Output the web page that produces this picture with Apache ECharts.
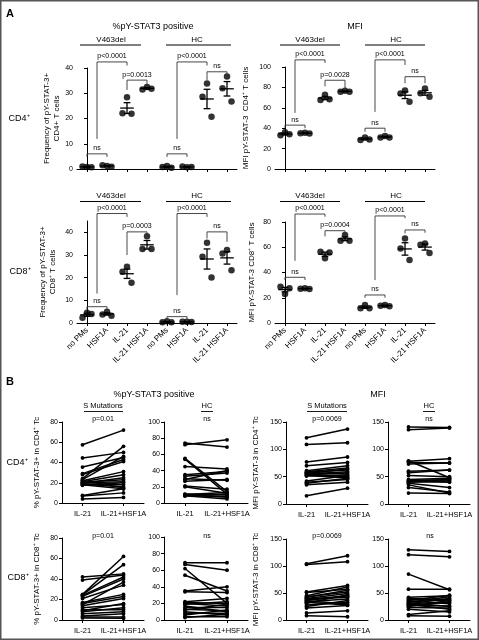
<!DOCTYPE html>
<html><head><meta charset="utf-8">
<script src="https://cdn.jsdelivr.net/npm/echarts@6/dist/echarts.min.js"></script>
<style>html,body{margin:0;padding:0;background:#fff}#c{width:479px;height:640px}</style>
</head><body><div id="c"></div><script>
// ---------------- DATA ----------------
const catsA = ['no PMs','HSF1A','IL-21','IL-21 HSF1A','no PMs','HSF1A','IL-21','IL-21 HSF1A'];
const catsB = ['IL-21','IL-21+HSF1A'];

// Panel A: three donors per condition (V463del x4, HC x4)
const cd4Freq = [[0.8,1.0,0.7],[1.2,1.5,0.9],[28.4,22.1,21.9],[32.5,31.5,31.8],[1.2,0.8,0.5],[0.7,1.0,0.8],[33.9,28.6,20.7],[36.6,32.0,26.7]];
const cd4MFI  = [[36,33,34],[35.5,35,34.8],[72.8,67.6,68.3],[76.8,75.8,75.8],[31,28.4,29],[32.4,31,31],[77,74,66],[79,74.2,70.9]];
const cd8Freq = [[4.5,2.3,4.0],[5.0,3.8,3.2],[24.8,22.6,17.8],[38.3,32.6,32.6],[0.8,0.3,0.3],[0.5,0.6,0.4],[35.4,29.2,20.1],[32.2,30.7,23.3]];
const cd8MFI  = [[23,28.8,27.5],[27.5,27.2,27],[51.2,56.4,55.9],[69.7,65.2,65.2],[14.3,11.6,11.6],[14.3,13.7,13.2],[67,59,50],[63,62,55.4]];

// Significance brackets: [x1, x2, top, leftLegEnd, rightLegEnd]
const cd4FreqBr = [[0,1,6,4.8,4.8],[0.5,2,42.4,11.9,41],[2,3,35.2,31.3,33.3],[4,5,6,4.8,4.8],[4.5,6,42.4,11.9,41],[6,7,38.5,35.2,36.8]];
const cd4FreqLab = ['ns','p<0.0001','p=0.0013','ns','p<0.0001','ns'];
const cd4MFIBr = [[0,1,43,40,40],[0.5,2,107,55,104],[2,3,87,81,78],[4,5,40,36.6,36.6],[4.5,6,107,56,102],[6,7,90.5,84,84]];
const cd4MFILab = ['ns','p<0.0001','p=0.0028','ns','p<0.0001','ns'];
const cd8FreqBr = [[0,1,7.2,6,6],[0.5,2,48.3,13,46.8],[2,3,40.2,30,38.8],[4,5,2.8,1.6,1.6],[4.5,6,48.3,12.3,46.8],[6,7,40.2,37.3,35.8]];
const cd8FreqLab = ['ns','p<0.0001','p=0.0003','ns','p<0.0001','ns'];
const cd8MFIBr = [[0,1,36.2,34,34],[0.5,2,86.3,49.3,84.2],[2,3,73.1,68.6,71],[4,5,22.2,20,20],[4.5,6,84.8,34,83],[6,7,73.7,71,71.5]];
const cd8MFILab = ['ns','p<0.0001','p=0.0004','ns','p<0.0001','ns'];

// Panel B: paired values [IL-21, IL-21+HSF1A]
const bCd4PctS = [[57.5,72],[44.5,50],[35.5,45],[29,43],[28,41],[24,56],[23,46],[22,31],[21,28],[20.5,23],[20,21],[19.5,25],[19,18],[18.5,16],[18,14],[17.5,20],[22,15],[7.5,14],[7,10],[4,5.5]];
const bCd4PctHC = [[74,69],[72,78],[55,14],[54,11],[45,42],[35,39],[33,37],[30,28],[29,40],[27,29],[21,17],[20,12],[11,10],[10.5,13],[10,7],[9.5,8],[9,5],[8.5,11]];
const bCd4MfiS = [[121,137],[109,112],[77,86],[70,76],[61,70],[59,66],[58,62],[57,55],[56,64],[55,59],[54,50],[53,57],[52,48],[51,53],[42,52],[40,45],[38,47],[35,40],[15,29]];
const bCd4MfiHC = [[141,140],[136,139],[79,48],[78,83],[76,75],[73,75],[60,62],[57,62],[52,50],[45,47],[43,44],[42,45],[41,40],[40,42],[38,30],[35,20],[30,22],[20,19]];
const bCd8PctS = [[42,45],[39,44],[25,62],[24.5,54],[24,42],[23,40],[21,34],[17,25],[16,23],[15,37],[14,21],[12,15],[10,10],[9,16],[8,12],[6,8],[4,6],[3,3],[2,1.6]];
const bCd8PctHC = [[69,69],[67,60],[62,20],[54,35],[35,40],[34,33],[22,26],[21,20],[20,17],[19,22],[17,10],[15,15],[13,11],[12,19],[10,6],[8,8],[6,12],[4,4],[3,7]];
const bCd8MfiS = [[104,119],[103,108],[52,64],[51,57],[45,61],[43,52],[42,55],[40,49],[39,44],[38,42],[36,45],[35,30],[34,39],[33,28],[31,47],[28,33],[25,36],[22,27],[13,17],[8,6]];
const bCd8MfiHC = [[130,127],[121,117],[85,56],[57,57],[42,45],[40,38],[38,35],[36,46],[35,30],[33,43],[32,25],[30,40],[29,20],[28,33],[27,26],[25,36],[23,22],[20,15],[10,17],[8,7]];

// Tick values
const ticks40 = [0,10,20,30,40];
const ticks100 = [0,20,40,60,80,100];
const ticks80 = [0,20,40,60,80];
const ticks150 = [0,50,100,150];

// ---------------- LAYOUT / STYLE ----------------
const FONT = '"Liberation Sans", Arial, sans-serif';
const jitter = [0, -0.25, 0.25];

const panelsA = [
  {left:77, top:68, width:160, height:101, max:40, ticks:ticks40, data:cd4Freq, br:cd4FreqBr, lab:cd4FreqLab, name:'Frequency of pY-STAT-3+\nCD4+ T cells', gap:15, xlabels:false},
  {left:275, top:67, width:160, height:102, max:100, ticks:ticks100, data:cd4MFI, br:cd4MFIBr, lab:cd4MFILab, name:'MFI pY-STAT-3  CD4\u207A T cells', gap:24, xlabels:false},
  {left:77, top:221, width:160, height:102, max:45, ticks:ticks40, data:cd8Freq, br:cd8FreqBr, lab:cd8FreqLab, name:'Frequency of pY-STAT-3+\nCD8\u207A T cells', gap:19, xlabels:true},
  {left:275, top:222, width:160, height:101, max:80, ticks:ticks80, data:cd8MFI, br:cd8MFIBr, lab:cd8MFILab, name:'MFI pY-STAT-3 CD8\u207A T cells', gap:18, xlabels:true}
];
const panelsB = [
  {left:62, top:422, width:82, height:81, max:80, ticks:ticks80, data:bCd4PctS, name:'% pY-STAT-3+ in CD4\u207A Tc', gap:20},
  {left:164, top:422, width:84, height:81, max:100, ticks:ticks100, data:bCd4PctHC},
  {left:286, top:422, width:82, height:82, max:150, ticks:ticks150, data:bCd4MfiS, name:'MFI pY-STAT-3 in CD4\u207A Tc', gap:25},
  {left:388, top:422, width:82, height:82, max:150, ticks:ticks150, data:bCd4MfiHC},
  {left:62, top:538, width:82, height:82, max:80, ticks:ticks80, data:bCd8PctS, name:'% pY-STAT-3+ in CD8\u207A Tc', gap:20},
  {left:164, top:537, width:84, height:83, max:100, ticks:ticks100, data:bCd8PctHC},
  {left:286, top:539, width:82, height:81, max:150, ticks:ticks150, data:bCd8MfiS, name:'MFI pY-STAT-3 in CD8\u207A Tc', gap:25},
  {left:388, top:539, width:82, height:81, max:150, ticks:ticks150, data:bCd8MfiHC}
];

const grid = [], xAxis = [], yAxis = [], series = [];
const axisLine = {show:true, lineStyle:{color:'#000', width:1}};
const axisTickStyle = {lineStyle:{color:'#000', width:1}, length:3};

function yAx(p, gi){
  return {type:'value', gridIndex:gi, min:0, max:p.max,
    axisLine, axisTick:Object.assign({show:true, customValues:p.ticks}, axisTickStyle),
    axisLabel:{customValues:p.ticks, fontSize:7, fontFamily:FONT, color:'#000', margin:4},
    splitLine:{show:false},
    name:p.name||'', nameLocation:'middle', nameGap:p.gap||0, nameRotate:90,
    nameTextStyle:{fontSize:8, fontFamily:FONT, color:'#000', lineHeight:10}};
}

function meanSem(arr){
  const n = arr.length, m = arr.reduce((a,b)=>a+b,0)/n;
  const sd = Math.sqrt(arr.reduce((a,b)=>a+(b-m)*(b-m),0)/(n-1));
  return [m, sd/Math.sqrt(n)];
}

panelsA.forEach((p) => {
  const gi = grid.length;
  grid.push({left:p.left, top:p.top, width:p.width, height:p.height, containLabel:false, outerBoundsMode:'none'});
  xAxis.push({type:'category', gridIndex:gi, data:catsA, boundaryGap:true,
    axisLine, axisTick:Object.assign({show:true, alignWithLabel:true}, axisTickStyle),
    axisLabel:{show:p.xlabels, rotate:45, fontSize:8, fontFamily:FONT, color:'#000', margin:6, interval:0}});
  const xVal = xAxis.length;
  xAxis.push({type:'value', gridIndex:gi, min:-0.5, max:7.5, show:false});
  yAxis.push(yAx(p, gi));
  // points
  const pts = [];
  p.data.forEach((grp, ci) => grp.forEach((v, j) => pts.push([ci + jitter[j]*0.9, v])));
  series.push({type:'scatter', xAxisIndex:xVal, yAxisIndex:gi, data:pts, symbol:'circle', symbolSize:6.5,
    itemStyle:{color:'#000'}, silent:true, z:2});
  // mean +/- SEM
  const ms = p.data.map((grp, ci) => { const r = meanSem(grp); return [ci, r[0], r[1]]; });
  series.push({type:'custom', xAxisIndex:xVal, yAxisIndex:gi, data:ms, silent:true, z:3, clip:false,
    renderItem(params, api){
      const x = api.value(0), m = api.value(1), s = api.value(2);
      const unit = api.size([1,0])[0];
      const c = api.coord([x,m]), hi = api.coord([x,m+s]), lo = api.coord([x,m-s]);
      const mw = unit*0.34, cw = unit*0.17;
      const st = {stroke:'#000', lineWidth:1.3};
      return {type:'group', children:[
        {type:'line', shape:{x1:c[0]-mw,y1:c[1],x2:c[0]+mw,y2:c[1]}, style:st},
        {type:'line', shape:{x1:c[0],y1:hi[1],x2:c[0],y2:lo[1]}, style:st},
        {type:'line', shape:{x1:c[0]-cw,y1:hi[1],x2:c[0]+cw,y2:hi[1]}, style:st},
        {type:'line', shape:{x1:c[0]-cw,y1:lo[1],x2:c[0]+cw,y2:lo[1]}, style:st}]};
    }});
  // brackets
  const labs = p.lab;
  series.push({type:'custom', xAxisIndex:xVal, yAxisIndex:gi, data:p.br, silent:true, z:4, clip:false,
    renderItem(params, api){
      const x1 = api.value(0), x2 = api.value(1), top = api.value(2), lb = api.value(3), rb = api.value(4);
      const a = api.coord([x1,lb]), b = api.coord([x1,top]), c = api.coord([x2,top]), d = api.coord([x2,rb]);
      return {type:'group', children:[
        {type:'polyline', shape:{points:[a,b,c,d]}, style:{stroke:'#333', lineWidth:0.9, fill:null}},
        {type:'text', style:{text:labs[params.dataIndex], x:(b[0]+c[0])/2, y:b[1]-2, align:'center', verticalAlign:'bottom',
          font:'7px '+FONT, fill:'#000'}}]};
    }});
});

panelsB.forEach((p) => {
  const gi = grid.length;
  grid.push({left:p.left, top:p.top, width:p.width, height:p.height, containLabel:false, outerBoundsMode:'none'});
  const xi = xAxis.length;
  xAxis.push({type:'category', gridIndex:gi, data:catsB, boundaryGap:true,
    axisLine, axisTick:Object.assign({show:true, alignWithLabel:true}, axisTickStyle),
    axisLabel:{fontSize:7.5, fontFamily:FONT, color:'#000', margin:7, interval:0}});
  yAxis.push(yAx(p, gi));
  p.data.forEach(pair => {
    series.push({type:'line', xAxisIndex:xi, yAxisIndex:gi, data:[[catsB[0], pair[0]],[catsB[1], pair[1]]],
      symbol:'circle', symbolSize:3.8, showSymbol:true, silent:true, animation:false,
      lineStyle:{color:'#000', width:1.5}, itemStyle:{color:'#000'}});
  });
});

// ---------------- TEXT GRAPHICS ----------------
function T(t, x, y, size, opt){
  opt = opt || {};
  return {type:'text', x:x, y:y, rotation:opt.rot||0, silent:true,
    style:{text:t, x:0, y:0, font:(opt.bold?'bold ':'')+size+'px '+FONT, fill:'#000', align:opt.align||'center', verticalAlign:'middle'}};
}
function L(x1,y1,x2,y2,w){ return {type:'line', silent:true, shape:{x1,y1,x2,y2}, style:{stroke:'#000', lineWidth:w||1}}; }

const graphic = [
  {type:'rect', silent:true, shape:{x:0.75,y:0.75,width:477.5,height:638.5}, style:{fill:'none', stroke:'#555', lineWidth:1.5}},
  T('A', 10, 14, 11, {bold:true}),
  T('B', 10, 382, 11, {bold:true}),
  T('%pY-STAT3 positive', 153, 27, 9),
  T('MFI', 355, 27, 9),
  // panel A group headers, row 1
  T('V463del', 111, 40, 8), L(80,45,141,45),
  T('HC', 197, 40, 8), L(166,45,231,45),
  T('V463del', 310, 40, 8), L(280,45,340,45),
  T('HC', 396, 40, 8), L(365,45,425,45),
  // row 2
  T('V463del', 111, 196, 8), L(80,201.5,141,201.5),
  T('HC', 197, 196, 8), L(166,201.5,231,201.5),
  T('V463del', 310, 196, 8), L(280,201.5,340,201.5),
  T('HC', 396, 196, 8), L(365,201.5,425,201.5),
  // row labels
  T('CD4\u207A', 19, 119, 9), T('CD8\u207A', 20, 272, 9),
  T('CD4\u207A', 17, 463, 9), T('CD8\u207A', 18, 578, 9),
  // panel B headers
  T('%pY-STAT3 positive', 154, 395, 9),
  T('MFI', 378, 395, 9),
  T('S Mutations', 103, 406, 7.5), L(84,411.5,123,411.5,0.9),
  T('HC', 207, 406, 7.5), L(201,411.5,213,411.5,0.9),
  T('S Mutations', 327, 406, 7.5), L(307,411.5,347,411.5,0.9),
  T('HC', 429, 406, 7.5), L(423,411.5,435,411.5,0.9),
  T('p=0.01', 103, 419, 7), T('ns', 207, 419, 7),
  T('p=0.0069', 327, 419, 7), T('ns', 429, 419, 7),
  T('p=0.01', 103, 536, 7), T('ns', 207, 536, 7),
  T('p=0.0069', 327, 536, 7), T('ns', 430, 536, 7)
];

const chart = echarts.init(document.getElementById('c'), null, {renderer:'canvas'});
chart.setOption({animation:false, backgroundColor:'#fff', grid, xAxis, yAxis, series, graphic});
</script></body></html>
